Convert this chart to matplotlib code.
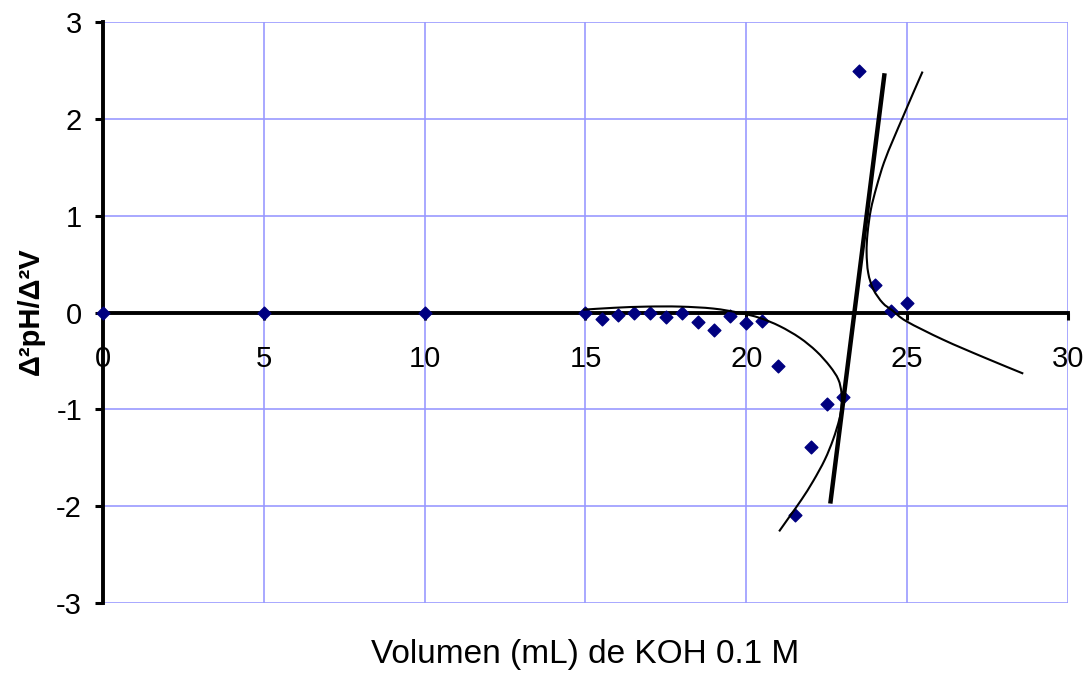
import matplotlib
matplotlib.use("Agg")
import matplotlib.pyplot as plt
from matplotlib.path import Path
from matplotlib.patches import PathPatch

plt.rcParams['font.family'] = ['Liberation Sans', 'DejaVu Sans']

# Second derivative of the titration curve
vol = [0, 5, 10, 15, 15.5, 16, 16.5, 17, 17.5, 18, 18.5, 19, 19.5, 20, 20.5,
       21, 21.5, 22, 22.5, 23, 23.5, 24, 24.5, 25]
d2 = [0, 0, 0, 0, -0.065, -0.02, 0, 0, -0.05, 0, -0.10, -0.175, -0.03, -0.107, -0.09,
      -0.55, -2.09, -1.39, -0.94, -0.875, 2.5, 0.29, 0.02, 0.1]

# Hand-fitted smooth curves through the approach to the endpoint
curve1_x = [14.93, 15.9, 16.9, 17.94, 18.97, 19.8, 20.42, 21.04, 21.66, 22.18, 22.6,
            22.86, 22.96, 22.96, 22.89, 22.7, 22.44, 22.08, 21.72, 21.36, 21.02]
curve1_y = [0.03, 0.05, 0.062, 0.062, 0.042, -0.003, -0.055, -0.14, -0.26, -0.40, -0.555,
            -0.69, -0.83, -0.97, -1.105, -1.31, -1.52, -1.74, -1.93, -2.10, -2.26]
curve2_x = [25.48, 25.19, 24.88, 24.57, 24.28, 24.05, 23.87, 23.77, 23.74, 23.79, 23.95,
            24.24, 24.55, 24.98, 26.12, 27.37, 28.61]
curve2_y = [2.49, 2.27, 2.03, 1.79, 1.55, 1.30, 1.06, 0.82, 0.62, 0.41, 0.24,
            0.10, 0.02, -0.09, -0.28, -0.46, -0.63]

# Tangent line through the inflection
tangent_x = [22.62, 24.29]
tangent_y = [-1.95, 2.45]

xticks = [0, 5, 10, 15, 20, 25, 30]
yticks = [-3, -2, -1, 0, 1, 2, 3]


def smooth_path(ax, xs, ys):
    """Smoothed polyline (Catmull-Rom segments as cubic Beziers, in display space)."""
    pts = ax.transData.transform(list(zip(xs, ys)))
    n = len(pts)
    verts = [tuple(pts[0])]
    codes = [Path.MOVETO]
    for i in range(n - 1):
        p0 = pts[i - 1] if i > 0 else pts[i]
        p1 = pts[i]
        p2 = pts[i + 1]
        p3 = pts[i + 2] if i + 2 < n else pts[i + 1]
        c1 = p1 + (p2 - p0) / 6.0
        c2 = p2 - (p3 - p1) / 6.0
        verts += [tuple(c1), tuple(c2), tuple(p2)]
        codes += [Path.CURVE4] * 3
    return Path(verts, codes)


fig = plt.figure(figsize=(10.86, 6.73), dpi=100)
ax = fig.add_axes([0.0948, 0.104, 0.8886, 0.863])

ax.set_xlim(0, 30)
ax.set_ylim(-3, 3)
ax.set_xticks(xticks)
ax.set_yticks(yticks)
ax.set_xticklabels([str(t) for t in xticks])
ax.set_yticklabels([str(t) for t in yticks])

ax.grid(True, color='#9999ff', linewidth=1.2, zorder=0)
ax.set_axisbelow(True)

for s in ('top', 'right'):
    ax.spines[s].set_visible(False)
ax.spines['bottom'].set_position(('data', 0))
ax.spines['bottom'].set_linewidth(2.8)
ax.spines['left'].set_linewidth(2.8)
ax.spines['bottom'].set_zorder(2)
ax.spines['left'].set_zorder(2)

ax.tick_params(axis='x', direction='out', length=5, width=2.2, pad=18, labelsize=21)
ax.tick_params(axis='y', direction='out', length=6, width=2.2, pad=9, labelsize=21)

ax.scatter(vol, d2, marker='D', s=42, color='#000080', zorder=3, clip_on=False)

for cx, cy in ((curve1_x, curve1_y), (curve2_x, curve2_y)):
    patch = PathPatch(smooth_path(ax, cx, cy), transform=None, facecolor='none',
                      edgecolor='black', linewidth=1.5, zorder=4)
    fig.add_artist(patch)

ax.plot(tangent_x, tangent_y, color='black', linewidth=3.2, zorder=4)

fig.text(0.539, 0.027, 'Volumen (mL) de KOH 0.1 M', ha='center', va='center', fontsize=24)
fig.text(0.028, 0.537, 'Δ²pH/Δ²V', ha='center', va='center', rotation=90,
         fontsize=21, fontweight='bold')

fig.savefig('out.png', dpi=100)
